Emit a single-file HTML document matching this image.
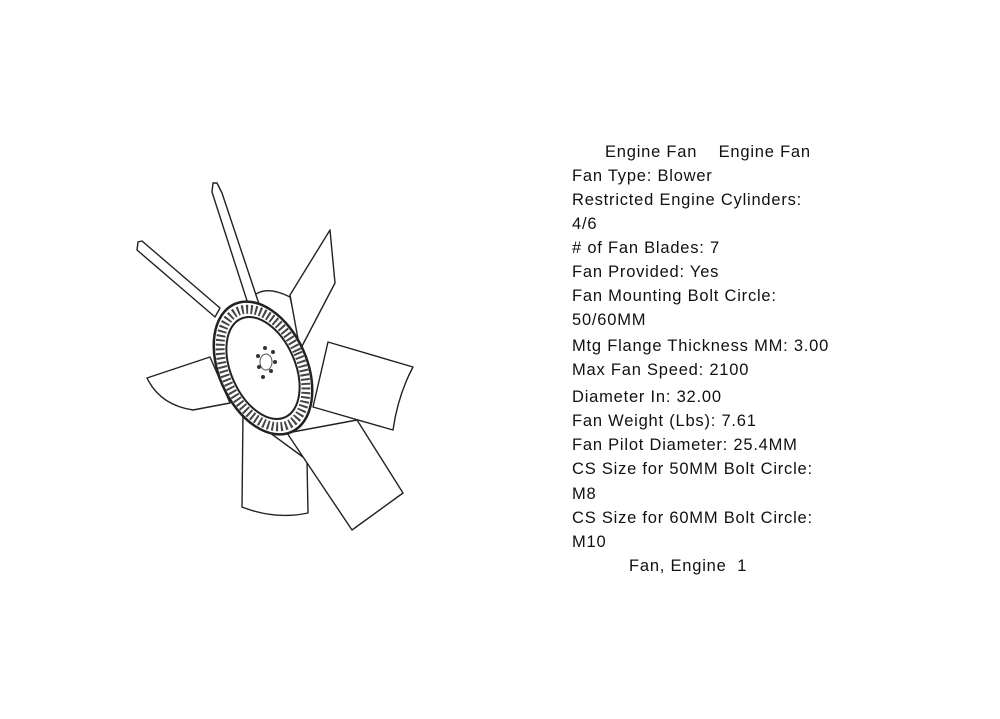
<!DOCTYPE html>
<html><head><style>
body{margin:0;background:#fff;width:1000px;height:719px;position:relative;overflow:hidden}
.t{position:absolute;left:572px;font-family:"Liberation Sans",sans-serif;font-size:16.5px;letter-spacing:0.78px;color:#111;white-space:pre;line-height:20px}
</style></head><body>
<svg width="1000" height="719" style="position:absolute;left:0;top:0" fill="#fff" stroke="#222" stroke-width="1.4" stroke-linejoin="round">
<path d="M243,413 L242,507 Q275,520 308,513 L307,460 Z"/>
<path d="M357,420 L403,493 L352,530 L287,433 Z"/>
<path d="M328,342 L413,367 Q398,395 393,430 L313,407 Z"/>
<path d="M147,378 L210,357 L230,403 L193,410 Q160,405 147,378 Z"/>
<path d="M250,300 Q262,283 290,297 L300,340 L255,330 Z"/>
<path d="M290,295 L330,230 L335,283 L300,350 Z"/>
<path d="M212,192 L213,183 L217,183 L222,193 L260,307 L250,310 Z"/>
<path d="M137,250 L138,242 L142,241 L220,308 L215,317 Z"/>
<g transform="rotate(-24 263 368)">
<ellipse cx="263" cy="368" rx="44" ry="70" stroke-width="2.5"/>
<ellipse cx="263" cy="368" rx="38" ry="62" stroke="#444" stroke-width="9" stroke-dasharray="2 2.5" fill="none"/>
<ellipse cx="263" cy="368" rx="32" ry="54" stroke-width="2"/>
</g>
<g fill="#333" stroke="none">
<circle cx="265" cy="348" r="2"/><circle cx="273" cy="352" r="2"/><circle cx="275" cy="362" r="2"/><circle cx="271" cy="371" r="2"/><circle cx="263" cy="377" r="2"/><circle cx="259" cy="367" r="2"/><circle cx="258" cy="356" r="2"/>
</g>
<ellipse cx="266" cy="362" rx="6" ry="8" fill="none" stroke="#555" stroke-width="1"/>
</svg>
<div class="t" style="top:142px;left:605px">Engine Fan    Engine Fan</div>
<div class="t" style="top:166px">Fan Type: Blower</div>
<div class="t" style="top:190px">Restricted Engine Cylinders:</div>
<div class="t" style="top:214px">4/6</div>
<div class="t" style="top:238px"># of Fan Blades: 7</div>
<div class="t" style="top:262px">Fan Provided: Yes</div>
<div class="t" style="top:286px">Fan Mounting Bolt Circle:</div>
<div class="t" style="top:310px">50/60MM</div>
<div class="t" style="top:336px">Mtg Flange Thickness MM: 3.00</div>
<div class="t" style="top:360px">Max Fan Speed: 2100</div>
<div class="t" style="top:387px">Diameter In: 32.00</div>
<div class="t" style="top:411px">Fan Weight (Lbs): 7.61</div>
<div class="t" style="top:435px">Fan Pilot Diameter: 25.4MM</div>
<div class="t" style="top:459px">CS Size for 50MM Bolt Circle:</div>
<div class="t" style="top:484px">M8</div>
<div class="t" style="top:508px">CS Size for 60MM Bolt Circle:</div>
<div class="t" style="top:532px">M10</div>
<div class="t" style="top:556px;left:629px">Fan, Engine  1</div>
</body></html>
